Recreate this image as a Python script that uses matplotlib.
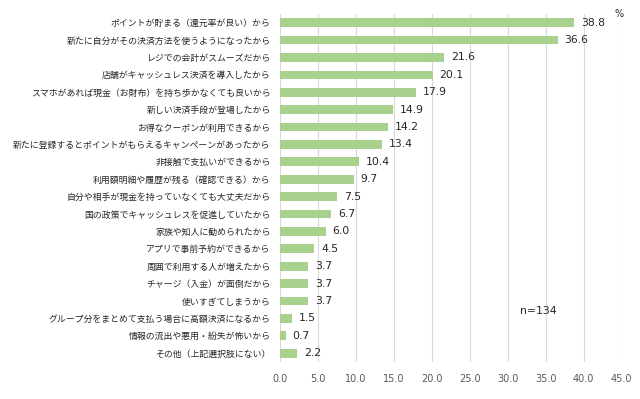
import matplotlib.pyplot as plt

plt.rcParams['font.family'] = ['Noto Sans CJK JP', 'DejaVu Sans']

labels = [
    'ポイントが貯まる（還元率が良い）から',
    '新たに自分がその決済方法を使うようになったから',
    'レジでの会計がスムーズだから',
    '店舗がキャッシュレス決済を導入したから',
    'スマホがあれば現金（お財布）を持ち歩かなくても良いから',
    '新しい決済手段が登場したから',
    'お得なクーポンが利用できるから',
    '新たに登録するとポイントがもらえるキャンペーンがあったから',
    '非接触で支払いができるから',
    '利用額明細や履歴が残る（確認できる）から',
    '自分や相手が現金を持っていなくても大丈夫だから',
    '国の政策でキャッシュレスを促進していたから',
    '家族や知人に勧められたから',
    'アプリで事前予約ができるから',
    '周囲で利用する人が増えたから',
    'チャージ（入金）が面倒だから',
    '使いすぎてしまうから',
    'グループ分をまとめて支払う場合に高額決済になるから',
    '情報の流出や悪用・紛失が怖いから',
    'その他（上記選択肢にない）',
]
values = [38.8, 36.6, 21.6, 20.1, 17.9, 14.9, 14.2, 13.4, 10.4, 9.7,
          7.5, 6.7, 6.0, 4.5, 3.7, 3.7, 3.7, 1.5, 0.7, 2.2]
xticks = [0, 5, 10, 15, 20, 25, 30, 35, 40, 45]

fig = plt.figure(figsize=(6.4, 3.99), dpi=100)
ax = fig.add_axes([0.438, 0.093, 0.533, 0.872])

pos = list(range(len(labels)))
ax.barh(pos, values, height=0.5, color='#A9D18E', zorder=2)
for p, v in zip(pos, values):
    ax.text(v + 0.9, p, f'{v:.1f}', va='center', ha='left', fontsize=7.8,
            color='#262626', family=['DejaVu Sans'])

ax.set_ylim(len(labels) - 0.5, -0.5)
ax.set_xlim(0, 45)
ax.set_xticks(xticks)
ax.set_xticklabels([f'{t:.1f}' for t in xticks], fontsize=7, color='#595959',
                   family=['DejaVu Sans'])
ax.set_yticks(pos)
ax.set_yticklabels(labels, fontsize=6.4, color='#262626')
ax.tick_params(axis='both', length=0)
ax.tick_params(axis='y', pad=7)
ax.tick_params(axis='x', pad=9)
ax.grid(axis='x', color='#D9D9D9', linewidth=0.8, zorder=0)
for s in ax.spines.values():
    s.set_visible(False)

ax.text(44.7, -0.5, '%', fontsize=7, color='#262626', ha='center', va='center',
        family=['DejaVu Sans'], clip_on=False)
ax.text(34.0, 16.6, 'n=134', fontsize=7.8, color='#262626', ha='center', va='center',
        family=['DejaVu Sans'])

fig.savefig('out.png', dpi=100)
